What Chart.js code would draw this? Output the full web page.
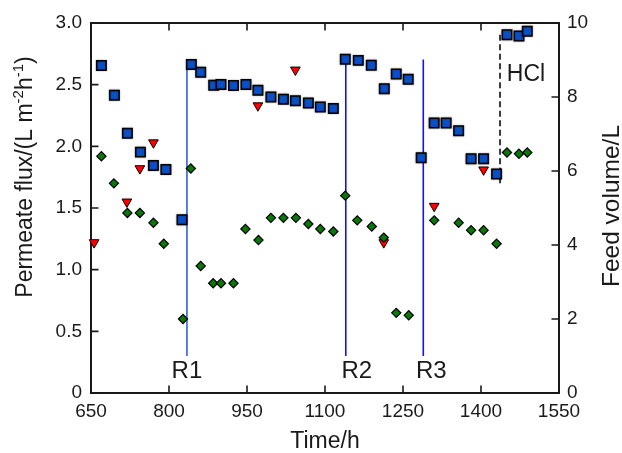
<!DOCTYPE html>
<html>
<head>
<meta charset="utf-8">
<script src="https://cdn.jsdelivr.net/npm/chart.js@4.4.1/dist/chart.umd.min.js"></script>
<style>
  html, body { margin: 0; padding: 0; background: #ffffff; }
  canvas { display: block; }
</style>
</head>
<body>
<canvas id="chart" width="622" height="453"></canvas>
<script>
// Feed volume (L) over operating time (h)
const volumeTime = [670, 695, 720, 745, 770, 794, 825, 843, 861, 886, 900, 924, 948, 971, 996, 1020, 1043, 1068, 1091, 1116,
                    1139, 1164, 1189, 1214, 1237, 1260, 1285, 1310, 1333, 1357, 1381, 1405, 1430, 1450, 1473, 1489];
const feedVolume = [8.85, 8.05, 7.02, 6.51, 6.15, 6.04, 4.68, 8.88, 8.67, 8.32, 8.34, 8.31, 8.34, 8.18, 8.00, 7.94, 7.90, 7.84, 7.73, 7.69,
                    9.02, 8.99, 8.86, 8.22, 8.62, 8.48, 6.36, 7.30, 7.30, 7.09, 6.33, 6.33, 5.92, 9.68, 9.65, 9.78];

// Permeate flux (L m-2 h-1)
const fluxTime = [670, 694, 720, 744, 770, 790, 827, 842, 861, 885, 900, 924, 947, 972, 996, 1020, 1044, 1068, 1091, 1116,
                  1139, 1162, 1190, 1213, 1237, 1261, 1310, 1357, 1381, 1405, 1430, 1450, 1473, 1489];
const permeateFlux = [1.92, 1.70, 1.46, 1.46, 1.38, 1.21, 0.60, 1.82, 1.03, 0.89, 0.89, 0.89, 1.33, 1.24, 1.42, 1.42, 1.42, 1.37, 1.33, 1.31,
                      1.60, 1.40, 1.35, 1.26, 0.65, 0.63, 1.40, 1.38, 1.32, 1.32, 1.21, 1.95, 1.94, 1.95];

// Second flux series
const flux2Time = [656, 719, 744, 770, 971, 1043, 1213, 1310, 1405];
const permeateFlux2 = [1.22, 1.55, 1.82, 2.03, 2.33, 2.62, 1.22, 1.515, 1.81];

// Events: refills and acid cleaning
const refillNames = ['R1', 'R2', 'R3'];
const refillTimes = [834.5, 1140, 1289];
const acidName = 'HCl';
const acidTime = 1436.6;

// Axis ticks
const timeTicks = [650, 800, 950, 1100, 1250, 1400, 1550];
const fluxTicks = [0, 0.5, 1.0, 1.5, 2.0, 2.5, 3.0];
const volumeTicks = [0, 2, 4, 6, 8, 10];

const FONT = "'Liberation Sans', Arial, Helvetica, sans-serif";
const INK = '#1a1a1a';

const pts = (xs, ys) => xs.map((x, i) => ({ x, y: ys[i] }));
const refillColors = ['#2d63d8', '#1414f0', '#1414f0'];

const eventLines = refillTimes.map((t, i) => ({
  type: 'scatter',
  data: [{ x: t, y: 0.30 }, { x: t, y: 2.705 }],
  yAxisID: 'y',
  showLine: true,
  borderColor: refillColors[i],
  borderWidth: 1.6,
  pointRadius: 0,
  order: 10,
  clip: false
}));
eventLines.push({
  type: 'scatter',
  data: [{ x: acidTime, y: 1.70 }, { x: acidTime, y: 2.93 }],
  yAxisID: 'y',
  showLine: true,
  borderColor: '#3a3a3a',
  borderWidth: 2,
  borderDash: [6, 3.5],
  pointRadius: 0,
  order: 10,
  clip: false
});

// Frame with inward tick marks on all four sides
const framePlugin = {
  id: 'frame',
  beforeDatasetsDraw(chart) {
    const { ctx, chartArea: a, scales } = chart;
    ctx.save();
    ctx.strokeStyle = INK;
    ctx.lineWidth = 2;
    ctx.strokeRect(a.left, a.top, a.right - a.left, a.bottom - a.top);
    ctx.lineWidth = 1.6;
    ctx.beginPath();
    const len = 7.5;
    timeTicks.forEach(v => {
      const px = scales.x.getPixelForValue(v);
      ctx.moveTo(px, a.bottom); ctx.lineTo(px, a.bottom - len);
      ctx.moveTo(px, a.top); ctx.lineTo(px, a.top + len);
    });
    fluxTicks.forEach(v => {
      const py = scales.y.getPixelForValue(v);
      ctx.moveTo(a.left, py); ctx.lineTo(a.left + len, py);
    });
    volumeTicks.forEach(v => {
      const py = scales.y2.getPixelForValue(v);
      ctx.moveTo(a.right, py); ctx.lineTo(a.right - len, py);
    });
    ctx.stroke();
    ctx.restore();
  }
};

// Soft grey halo around the square markers
const haloPlugin = {
  id: 'halo',
  beforeDatasetDraw(chart, args) {
    if (args.meta.dataset === undefined || chart.data.datasets[args.index].pointStyle !== 'rect') return;
    chart.ctx.save();
    chart.ctx.shadowColor = 'rgba(0,0,0,0.35)';
    chart.ctx.shadowBlur = 2;
  },
  afterDatasetDraw(chart, args) {
    if (args.meta.dataset === undefined || chart.data.datasets[args.index].pointStyle !== 'rect') return;
    chart.ctx.restore();
  }
};

// Axis titles and event labels
const textPlugin = {
  id: 'texts',
  afterDraw(chart) {
    const { ctx, chartArea: a, scales } = chart;
    ctx.save();
    ctx.fillStyle = INK;

    // bottom title
    ctx.font = `23px ${FONT}`;
    ctx.textAlign = 'center';
    ctx.textBaseline = 'alphabetic';
    ctx.fillText('Time/h', (a.left + a.right) / 2, 448);

    // left title with superscripts
    const parts = [
      { t: 'Permeate flux/(L m', sup: false },
      { t: '-2', sup: true },
      { t: 'h', sup: false },
      { t: '-1', sup: true },
      { t: ')', sup: false }
    ];
    const mainFont = `23px ${FONT}`;
    const supFont = `15px ${FONT}`;
    let total = 0;
    parts.forEach(p => { ctx.font = p.sup ? supFont : mainFont; p.w = ctx.measureText(p.t).width; total += p.w; });
    ctx.save();
    ctx.translate(32, 177);
    ctx.rotate(-Math.PI / 2);
    ctx.textAlign = 'left';
    let cx = -total / 2;
    parts.forEach(p => {
      ctx.font = p.sup ? supFont : mainFont;
      ctx.fillText(p.t, cx, p.sup ? -9 : 0);
      cx += p.w;
    });
    ctx.restore();

    // right title
    ctx.save();
    ctx.translate(619, 206);
    ctx.rotate(-Math.PI / 2);
    ctx.font = `24.5px ${FONT}`;
    ctx.textAlign = 'center';
    ctx.fillText('Feed volume/L', 0, 0);
    ctx.restore();

    // event labels
    const offsets = [0, 11, 8];
    ctx.font = `24px ${FONT}`;
    ctx.textAlign = 'center';
    refillNames.forEach((name, i) => {
      const px = scales.x.getPixelForValue(refillTimes[i]) + offsets[i];
      ctx.fillText(name, px, scales.y.getPixelForValue(0.12));
    });
    ctx.font = `23px ${FONT}`;
    ctx.fillText(acidName, scales.x.getPixelForValue(acidTime) + 26, scales.y.getPixelForValue(2.532));
    ctx.restore();
  }
};

const tickFont = { family: FONT, size: 19 };

new Chart(document.getElementById('chart'), {
  type: 'scatter',
  data: {
    datasets: [
      {
        data: pts(fluxTime, permeateFlux),
        yAxisID: 'y',
        pointStyle: 'rectRot',
        pointRadius: 4.6,
        backgroundColor: '#087808',
        borderColor: '#000000',
        borderWidth: 1.2,
        order: 1,
        clip: false
      },
      {
        data: pts(flux2Time, permeateFlux2),
        yAxisID: 'y',
        pointStyle: 'triangle',
        rotation: 180,
        pointRadius: 5.6,
        backgroundColor: '#ff0000',
        borderColor: '#000000',
        borderWidth: 1,
        order: 2,
        clip: false
      },
      {
        data: pts(volumeTime, feedVolume),
        yAxisID: 'y2',
        pointStyle: 'rect',
        pointRadius: 6.7,
        backgroundColor: '#0a50c8',
        borderColor: '#000000',
        borderWidth: 1.5,
        order: 3,
        clip: false
      },
      ...eventLines
    ]
  },
  options: {
    responsive: false,
    animation: false,
    events: [],
    layout: { padding: { top: 23, left: 0, right: 0, bottom: 0 } },
    plugins: { legend: { display: false }, tooltip: { enabled: false } },
    scales: {
      x: {
        type: 'linear',
        position: 'bottom',
        min: 650, max: 1550,
        afterBuildTicks: s => { s.ticks = timeTicks.map(v => ({ value: v })); },
        afterFit: s => { s.height = 60; },
        grid: { display: false, drawTicks: false },
        border: { display: false },
        ticks: { font: tickFont, color: INK, padding: 7, maxRotation: 0, callback: v => String(v) }
      },
      y: {
        type: 'linear',
        position: 'left',
        min: 0, max: 3,
        afterBuildTicks: s => { s.ticks = fluxTicks.map(v => ({ value: v })); },
        afterFit: s => { s.width = 91; },
        grid: { display: false, drawTicks: false },
        border: { display: false },
        ticks: { font: tickFont, color: INK, padding: 9, callback: v => (v === 0 ? '0' : v.toFixed(1)) }
      },
      y2: {
        type: 'linear',
        position: 'right',
        min: 0, max: 10,
        afterBuildTicks: s => { s.ticks = volumeTicks.map(v => ({ value: v })); },
        afterFit: s => { s.width = 63; },
        grid: { display: false, drawTicks: false },
        border: { display: false },
        ticks: { font: tickFont, color: INK, padding: 8, callback: v => String(v) }
      }
    }
  },
  plugins: [framePlugin, haloPlugin, textPlugin]
});
</script>
</body>
</html>
